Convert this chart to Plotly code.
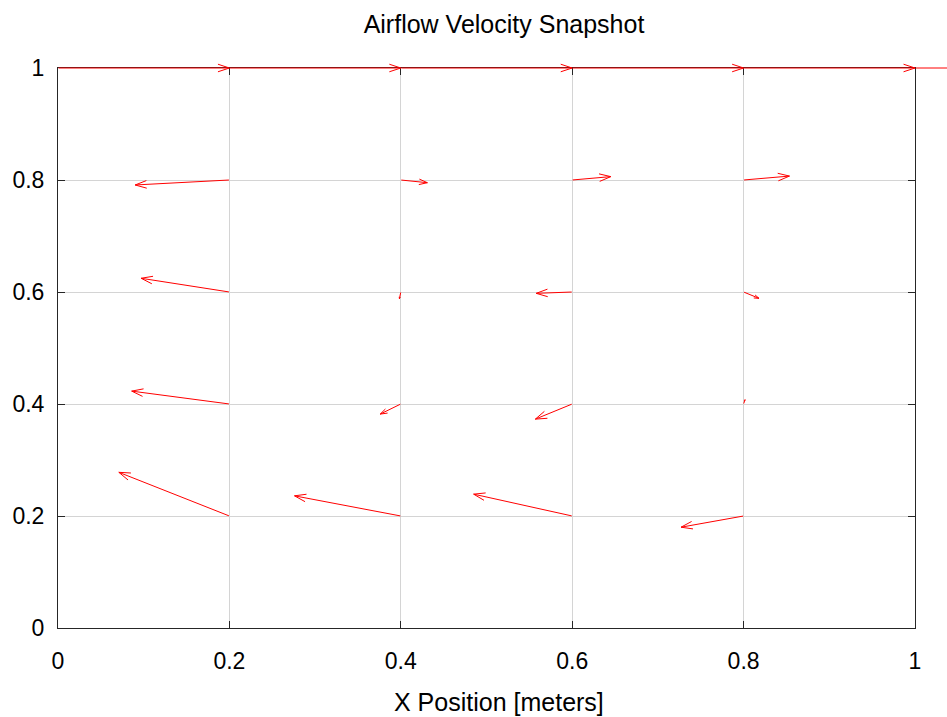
import math
import plotly.graph_objects as go

# ---- data: grid positions and displayed velocity components (data units) ----
x_pos = [0.0, 0.2, 0.4, 0.6, 0.8, 1.0]
y_pos = [0.0, 0.2, 0.4, 0.6, 0.8, 1.0]

# rows indexed by y_pos, columns by x_pos
u_rows = [
    [0.0, 0.0, 0.0, 0.0, 0.0, 0.0],
    [0.0, -0.129, -0.124, -0.115, -0.073, 0.0],
    [0.0, -0.114, -0.024, -0.043, 0.0016, 0.0],
    [0.0, -0.103, -0.0016, -0.042, 0.018, 0.0],
    [0.0, -0.110, 0.031, 0.045, 0.0535, 0.0],
    [0.2, 0.2, 0.2, 0.2, 0.2, 0.2],
]
v_rows = [
    [0.0, 0.0, 0.0, 0.0, 0.0, 0.0],
    [0.0, 0.078, 0.036, 0.039, -0.020, 0.0],
    [0.0, 0.023, -0.018, -0.027, 0.0077, 0.0],
    [0.0, 0.0245, -0.012, -0.0024, -0.0113, 0.0],
    [0.0, -0.0089, -0.0048, 0.006, 0.007, 0.0],
    [0.0, 0.0, 0.0, 0.0, 0.0, 0.0],
]

tick_vals = [0, 0.2, 0.4, 0.6, 0.8, 1]
tick_text = ["0", "0.2", "0.4", "0.6", "0.8", "1"]

title_text = "Airflow Velocity Snapshot"
xlabel_text = "X Position [meters]"

# ---- layout constants ----
W, H = 947, 717
ML, MR, MT, MB = 55, 32, 68, 89
PW, PH = W - ML - MR, H - MT - MB  # plot area in pixels
RED = "#ff0000"
AX = "#262626"


def seg(x0, y0, x1, y1):
    """A plain red line from (x0, y0) to (x1, y1) in data coords (unclipped)."""
    return dict(
        x=x1, y=y1, xref="x", yref="y",
        ax=x0, ay=y0, axref="x", ayref="y",
        text="", showarrow=True, arrowhead=0, arrowwidth=1,
        arrowcolor=RED, font=dict(size=1), borderpad=0,
        standoff=0, startstandoff=0,
    )


annotations = []
for j, yv in enumerate(y_pos):
    for i, xv in enumerate(x_pos):
        du, dv = u_rows[j][i], v_rows[j][i]
        if du == 0 and dv == 0:
            continue
        tx, ty = xv + du, yv + dv
        annotations.append(seg(xv, yv, tx, ty))
        # open chevron head, built in screen space from the vector
        sx, sy = du * PW, dv * PH
        L = math.hypot(sx, sy)
        hl = min(0.33 * L, 12.0)
        hw = hl * 0.33
        ux, uy = sx / L, sy / L
        px, py = -uy, ux
        for s in (1, -1):
            bx = tx + (-hl * ux + s * hw * px) / PW
            by = ty + (-hl * uy + s * hw * py) / PH
            annotations.append(seg(bx, by, tx, ty))

annotations.append(dict(
    text=xlabel_text, xref="paper", yref="paper",
    x=(498 - ML) / PW, y=-(702 - (H - MB)) / PH,
    xanchor="center", yanchor="middle", showarrow=False,
    font=dict(family="Liberation Sans, Arial", size=25, color="#000000"),
))

axis_common = dict(
    range=[0, 1], tickvals=tick_vals, ticktext=tick_text,
    ticks="inside", ticklen=7, tickwidth=1, tickcolor=AX,
    showline=True, linecolor=AX, linewidth=1, mirror="ticks",
    showgrid=True, gridcolor="#d4d4d4", gridwidth=1, zeroline=False,
    tickfont=dict(family="Liberation Sans, Arial", size=23, color="#000000"),
    fixedrange=True,
)

fig = go.Figure()
fig.add_trace(go.Scatter(x=[None], y=[None], mode="lines", showlegend=False,
                         hoverinfo="skip"))

fig.update_layout(
    width=W, height=H,
    margin=dict(l=ML, r=MR, t=MT, b=MB, pad=0),
    paper_bgcolor="white", plot_bgcolor="white",
    title=dict(text=title_text, x=504 / W, xanchor="center",
               y=1 - 24 / H, yanchor="middle", xref="container", yref="container",
               font=dict(family="Liberation Sans, Arial", size=25, color="#000000")),
    xaxis=dict(**axis_common, ticklabelstandoff=12),
    yaxis=dict(**axis_common, ticklabelstandoff=8),
    annotations=annotations,
    showlegend=False,
)

fig.write_html(
    "out.html",
    config={"displayModeBar": False, "staticPlot": True},
    post_script="document.body.style.margin='0';document.body.style.overflow='hidden';",
)
